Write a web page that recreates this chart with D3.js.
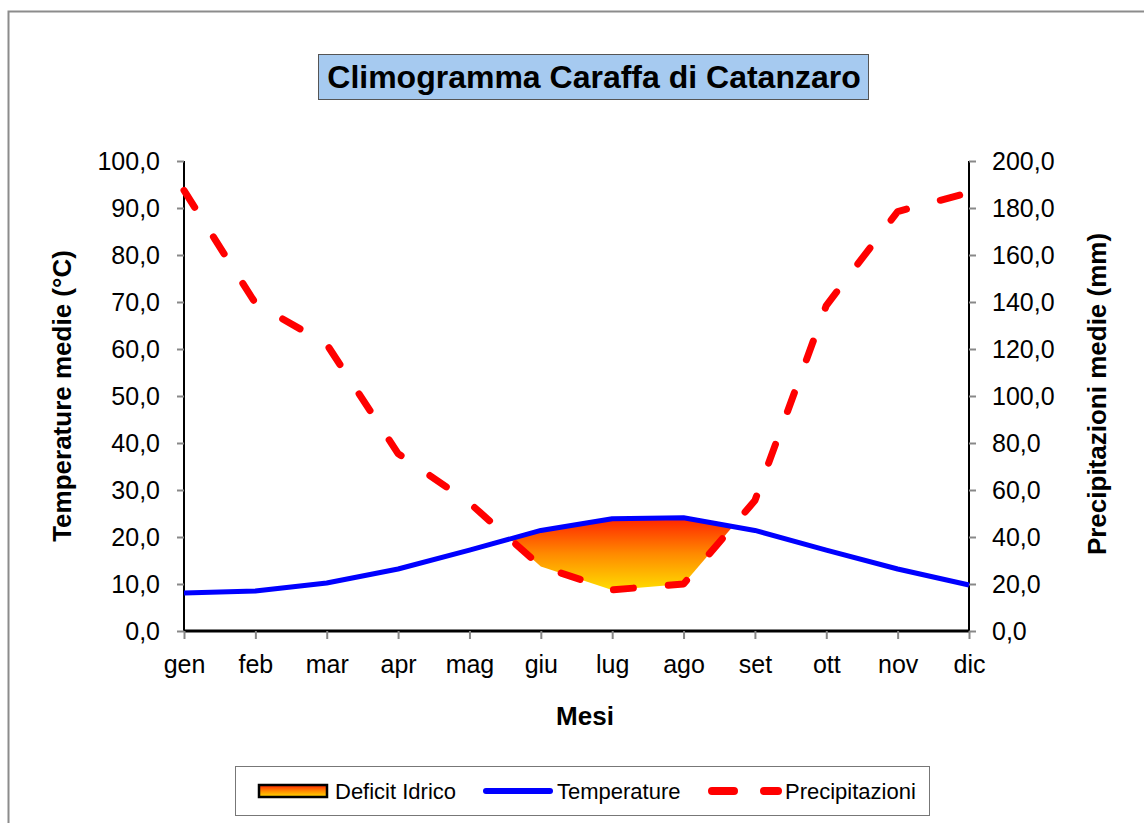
<!DOCTYPE html>
<html lang="it">
<head>
<meta charset="utf-8">
<title>Climogramma Caraffa di Catanzaro</title>
<script src="https://d3js.org/d3.v7.js"></script>
<style>
  body { margin: 0; background: #fff; }
  text { font-family: Arial, "Liberation Sans", sans-serif; }
</style>
</head>
<body>
<script>
const w = 1144;
const h = 823;

// dati
const mesi = ["gen", "feb", "mar", "apr", "mag", "giu", "lug", "ago", "set", "ott", "nov", "dic"];
const temperature = [8.1, 8.5, 10.2, 13.2, 17.2, 21.4, 23.9, 24.1, 21.4, 17.2, 13.2, 9.8];
const precipitazioni = [187.5, 139.5, 122.0, 75.5, 54.5, 27.5, 17.5, 20.0, 55.5, 138.5, 178.5, 186.5];
const tempTicks = [0, 10, 20, 30, 40, 50, 60, 70, 80, 90, 100];
const precTicks = [0, 20, 40, 60, 80, 100, 120, 140, 160, 180, 200];

const plot = {left: 184, right: 969, top: 161, bottom: 631};

const svg = d3.select("body").append("svg")
  .attr("width", w)
  .attr("height", h);

const defs = svg.append("defs");
const grad = defs.append("linearGradient")
  .attr("id", "deficit")
  .attr("x1", 0).attr("y1", 0).attr("x2", 0).attr("y2", 1);
grad.append("stop").attr("offset", "0%").attr("stop-color", "#ff2200");
grad.append("stop").attr("offset", "50%").attr("stop-color", "#ff8a00");
grad.append("stop").attr("offset", "100%").attr("stop-color", "#ffdc00");

// cornice esterna
svg.append("rect")
  .attr("x", 8.5).attr("y", 11.5)
  .attr("width", 1150).attr("height", 830)
  .attr("fill", "white")
  .attr("stroke", "#8c8c8c")
  .attr("stroke-width", 2);

const x = d3.scalePoint().domain(mesi).range([plot.left, plot.right]);
const yT = d3.scaleLinear().domain([0, 100]).range([plot.bottom, plot.top]);
const yP = d3.scaleLinear().domain([0, 200]).range([plot.bottom, plot.top]);

const fmt = d => d.toFixed(1).replace(".", ",");

// area deficit idrico: dove le precipitazioni (scala destra) stanno sotto la temperatura
const pts = mesi.map((m, i) => ({x: x(m), t: yT(temperature[i]), p: yP(precipitazioni[i]), d: temperature[i] - precipitazioni[i] / 2}));
const regions = [];
let cur = null;
for (let i = 0; i < pts.length; i++) {
  const a = pts[i];
  if (a.d > 0) {
    if (!cur) {
      cur = {top: [], bot: []};
      if (i > 0) {
        const b = pts[i - 1];
        const k = b.d / (b.d - a.d);
        const xi = b.x + k * (a.x - b.x), yi = b.t + k * (a.t - b.t);
        cur.top.push([xi, yi]); cur.bot.push([xi, yi]);
      }
    }
    cur.top.push([a.x, a.t]); cur.bot.push([a.x, a.p]);
  }
  if (cur && (i === pts.length - 1 || pts[i + 1].d <= 0)) {
    if (i < pts.length - 1) {
      const b = pts[i + 1];
      const k = a.d / (a.d - b.d);
      const xi = a.x + k * (b.x - a.x), yi = a.t + k * (b.t - a.t);
      cur.top.push([xi, yi]); cur.bot.push([xi, yi]);
    }
    regions.push(cur);
    cur = null;
  }
}
svg.selectAll("path.deficit")
  .data(regions)
  .enter().append("path")
  .attr("class", "deficit")
  .attr("d", r => d3.line()(r.top.concat(r.bot.slice().reverse())) + "Z")
  .attr("fill", "url(#deficit)");

// assi
const axisLeft = svg.append("g")
  .attr("transform", `translate(${plot.left},0)`)
  .call(d3.axisLeft(yT).tickValues(tempTicks).tickFormat(fmt).tickSize(7).tickPadding(17));
const axisRight = svg.append("g")
  .attr("transform", `translate(${plot.right},0)`)
  .call(d3.axisRight(yP).tickValues(precTicks).tickFormat(fmt).tickSize(7).tickPadding(16));
const axisBottom = svg.append("g")
  .attr("transform", `translate(0,${plot.bottom})`)
  .call(d3.axisBottom(x).tickSize(8).tickPadding(16));

[axisLeft, axisRight, axisBottom].forEach(g => {
  g.selectAll(".tick line").attr("stroke", "#888").attr("stroke-width", 2);
  g.selectAll(".tick text").attr("font-size", 25).attr("fill", "#000")
    .style("font-family", "Arial, 'Liberation Sans', sans-serif");
  g.select(".domain").attr("stroke", "#000");
});
axisLeft.select(".domain").attr("d", `M0,${plot.top}V${plot.bottom}`).attr("stroke-width", 2);
axisRight.select(".domain").attr("d", `M0,${plot.top}V${plot.bottom}`).attr("stroke-width", 2);
axisBottom.select(".domain").attr("d", `M${plot.left},0H${plot.right}`).attr("stroke-width", 3);

// linee
svg.append("path")
  .datum(temperature)
  .attr("d", d3.line().x((d, i) => x(mesi[i])).y(d => yT(d)))
  .attr("fill", "none")
  .attr("stroke", "#0000ff")
  .attr("stroke-width", 5)
  .attr("stroke-linejoin", "round");

svg.append("path")
  .datum(precipitazioni)
  .attr("d", d3.line().x((d, i) => x(mesi[i])).y(d => yP(d)))
  .attr("fill", "none")
  .attr("stroke", "#ff0000")
  .attr("stroke-width", 7)
  .attr("stroke-linecap", "round")
  .attr("stroke-linejoin", "round")
  .attr("stroke-dasharray", "20,35");

// titolo
svg.append("rect")
  .attr("x", 318.5).attr("y", 54.5)
  .attr("width", 550).attr("height", 45)
  .attr("fill", "#a6caf0")
  .attr("stroke", "#555")
  .attr("stroke-width", 1);
svg.append("text")
  .attr("x", 594).attr("y", 88)
  .attr("text-anchor", "middle")
  .attr("font-size", 32)
  .attr("font-weight", "bold")
  .text("Climogramma Caraffa di Catanzaro");

// titoli degli assi
svg.append("text")
  .attr("transform", "translate(71,396) rotate(-90)")
  .attr("text-anchor", "middle")
  .attr("font-size", 26)
  .attr("font-weight", "bold")
  .text("Temperature medie (°C)");
svg.append("text")
  .attr("transform", "translate(1106,394) rotate(-90)")
  .attr("text-anchor", "middle")
  .attr("font-size", 26)
  .attr("font-weight", "bold")
  .text("Precipitazioni medie (mm)");
svg.append("text")
  .attr("x", 585).attr("y", 725)
  .attr("text-anchor", "middle")
  .attr("font-size", 26)
  .attr("font-weight", "bold")
  .text("Mesi");

// legenda
const leg = svg.append("g");
leg.append("rect")
  .attr("x", 235.5).attr("y", 766.5)
  .attr("width", 694).attr("height", 49)
  .attr("fill", "white")
  .attr("stroke", "#777")
  .attr("stroke-width", 1);
leg.append("rect")
  .attr("x", 259).attr("y", 785)
  .attr("width", 68).attr("height", 12)
  .attr("fill", "url(#deficit)")
  .attr("stroke", "#000")
  .attr("stroke-width", 2.5);
leg.append("text").attr("x", 335).attr("y", 799).attr("font-size", 22).text("Deficit Idrico");
leg.append("line")
  .attr("x1", 486).attr("x2", 550).attr("y1", 791).attr("y2", 791)
  .attr("stroke", "#0000ff").attr("stroke-width", 6).attr("stroke-linecap", "round");
leg.append("text").attr("x", 557).attr("y", 799).attr("font-size", 22).text("Temperature");
leg.append("line")
  .attr("x1", 712).attr("x2", 778).attr("y1", 791).attr("y2", 791)
  .attr("stroke", "#ff0000").attr("stroke-width", 8).attr("stroke-linecap", "round")
  .attr("stroke-dasharray", "22,30");
leg.append("text").attr("x", 785).attr("y", 799).attr("font-size", 22).text("Precipitazioni");
</script>
</body>
</html>
